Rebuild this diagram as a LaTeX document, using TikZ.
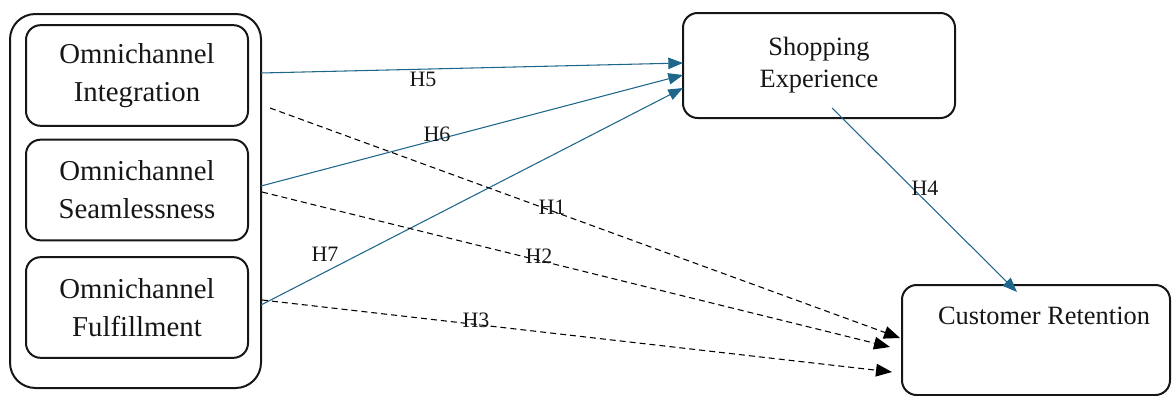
\documentclass[tikz,border=0pt]{standalone}
\usepackage{fontspec}
\setmainfont{Liberation Serif}
\usetikzlibrary{arrows.meta,calc}
\definecolor{linkblue}{RGB}{30,102,138}
\definecolor{ink}{RGB}{22,22,22}
\definecolor{dashgrey}{RGB}{40,40,40}

\begin{document}
\begin{tikzpicture}[x=0.75pt,y=-0.75pt,
  frame/.style={draw=ink, line width=1.5pt, outer sep=0pt, inner sep=0pt, text=ink},
  construct/.style={frame, rounded corners=11pt, minimum width=166.5pt,
    minimum height=75.5pt, align=center,
    font=\fontsize{21.6}{28.5}\selectfont},
  outcome/.style={frame, rounded corners=11pt, align=center,
    font=\fontsize{19.8}{24.8}\selectfont},
  direct/.style={draw=linkblue, line width=0.8pt,
    -{Triangle[length=11pt,width=8.5pt]}, color=linkblue},
  indirect/.style={draw=dashgrey, line width=0.8pt, dash pattern=on 4.5pt off 3pt,
    -{Triangle[length=12pt,width=9.5pt]}, color=black},
  hyp/.style={text=ink, inner sep=0pt, font=\fontsize{16.5}{19}\selectfont}]
\useasboundingbox (0,0) rectangle (1172,396);

% grouping frame around the three omnichannel constructs
\node[frame, rounded corners=19pt, minimum width=188.25pt, minimum height=280.5pt]
  (group) at (135.5,201) {};
\node[construct] (integ) at (137,75.5) {Omnichannel\\Integration};
\node[construct] (seam) at (137,190) {Omnichannel\\Seamlessness};
\node[construct] (fulfil) at (137,307.5) {Omnichannel\\Fulfillment};

% mediator and outcome
\node[outcome, minimum width=204pt, minimum height=78.75pt] (shop) at (819,65.5)
  {Shopping\\[-1pt]Experience};
\node[outcome, minimum width=201pt, minimum height=82.5pt] (ret) at (1036,340)
  {};
\node[text=ink, anchor=base, inner sep=0pt, font=\fontsize{19.8}{24.8}\selectfont]
  (rettext) at ($(ret.north)+(8,39)$) {Customer Retention};

% paths to shopping experience
\draw[direct] ($(group.east)+(0,-128)$) -- ($(shop.west)+(0,-2.5)$);
\draw[direct] ($(group.east)+(0,-15)$) -- ($(shop.west)+(0,9.5)$);
\draw[direct] ($(group.east)+(0,104)$) -- ($(shop.west)+(0,22.5)$);
% direct paths to retention
\draw[indirect] ($(group.east)+(9,-93)$) -- ($(ret.west)+(-2,-2)$);
\draw[indirect] ($(group.east)+(1,-9)$) -- ($(ret.west)+(-12,7)$);
\draw[indirect] ($(group.east)+(1,99)$) -- ($(ret.west)+(-10,32)$);
% mediator to outcome
\draw[direct] ($(shop.south)+(13,-10)$) -- ($(ret.north)+(-19,7)$);

% hypothesis labels
\node[hyp] (h5) at (423,79.5) {H5};
\node[hyp] (h6) at (437,134.5) {H6};
\node[hyp] (h7) at (325,254.5) {H7};
\node[hyp] (h1) at (552,207) {H1};
\node[hyp] (h2) at (539,256.5) {H2};
\node[hyp] (h3) at (476,320.5) {H3};
\node[hyp] (h4) at (925,188.5) {H4};
\end{tikzpicture}
\end{document}
